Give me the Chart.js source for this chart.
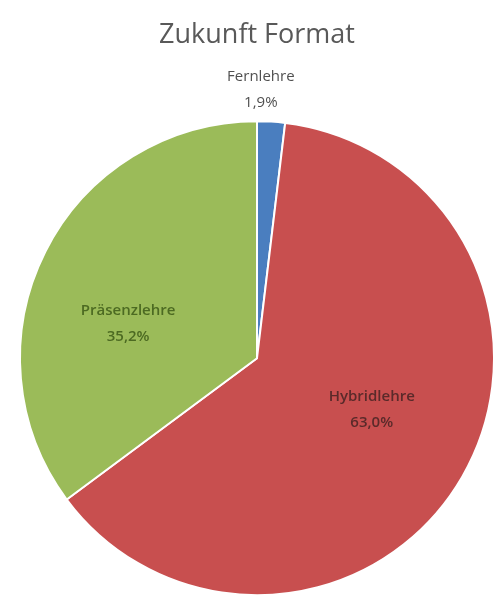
<!DOCTYPE html>
<html>
<head>
<meta charset="utf-8">
<script src="https://cdn.jsdelivr.net/npm/chart.js@4"></script>
<style>
  html, body { margin: 0; padding: 0; background: #fff; overflow: hidden; }
  #wrap { position: absolute; left: 0; top: 0; width: 518px; height: 599px; }
</style>
</head>
<body>
<div id="wrap"><canvas id="pieChart"></canvas></div>
<script>
const titleText = 'Zukunft Format';
const categories = ['Fernlehre', 'Hybridlehre', 'Präsenzlehre'];
const shares = [1.9, 63.0, 35.2];
const sliceColors = ['#4a7ebf', '#c84f4f', '#9bbb59'];
const labelColors = ['#505050', '#5a2a2a', '#4c6a22'];

const formatPct = v => v.toLocaleString('de-DE', {minimumFractionDigits: 1, maximumFractionDigits: 1}) + '%';

// Beschriftung wie in Excel, pro Segment: radialer Faktor + Winkelversatz (Grad)
const sliceLabels = {
    id: 'sliceLabels',
    afterDatasetsDraw(chart, args, opts) {
        const ctx = chart.ctx;
        const meta = chart.getDatasetMeta(0);
        meta.data.forEach((arc, i) => {
            const p = arc.getProps(['x', 'y', 'startAngle', 'endAngle', 'outerRadius'], true);
            const place = opts.place[i];
            const mid = (p.startAngle + p.endAngle) / 2 + place.shift * Math.PI / 180;
            const r = p.outerRadius * place.factor;
            const x = p.x + Math.cos(mid) * r;
            const y = p.y + Math.sin(mid) * r;
            ctx.save();
            ctx.font = place.font;
            ctx.fillStyle = labelColors[i];
            ctx.textAlign = 'center';
            ctx.textBaseline = 'middle';
            ctx.fillText(categories[i], x, y - 13);
            ctx.fillText(formatPct(shares[i]), x, y + 13);
            ctx.restore();
        });
    }
};

new Chart(document.getElementById('pieChart').getContext('2d'), {
    type: 'pie',
    data: {
        labels: categories,
        datasets: [{
            data: shares,
            backgroundColor: sliceColors,
            borderColor: '#ffffff',
            borderWidth: 2
        }]
    },
    options: {
        responsive: true, maintainAspectRatio: false, animation: false,
        layout: { padding: { left: 19, right: 23, top: 0, bottom: 2 } },
        plugins: {
            legend: { display: false },
            tooltip: { enabled: false },
            title: {
                display: true, text: titleText, color: '#595959',
                font: { family: 'Open Sans', size: 27, weight: 'normal' },
                padding: { top: 19, bottom: 68 }
            },
            sliceLabels: {
                place: [
                    { factor: 1.134, shift: -2.6, font: '15px "Open Sans"' },
                    { factor: 0.53, shift: -6.1, font: '600 15px "Open Sans"' },
                    { factor: 0.563, shift: -11.7, font: '600 15px "Open Sans"' }
                ]
            }
        }
    },
    plugins: [sliceLabels]
});
</script>
</body>
</html>
